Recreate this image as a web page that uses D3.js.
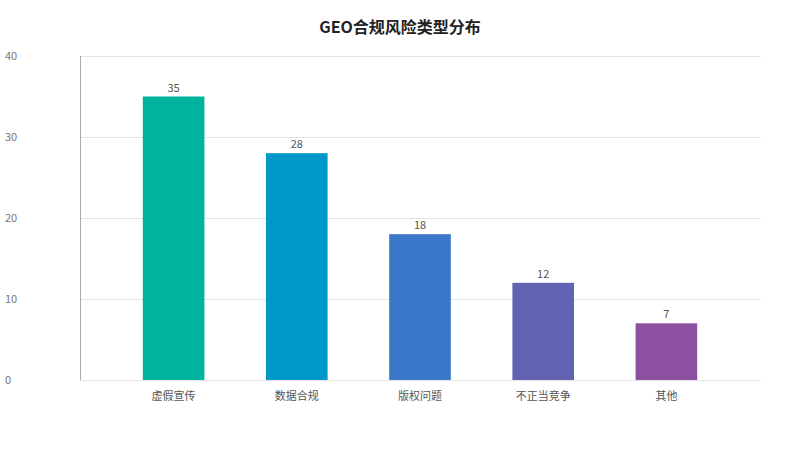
<!DOCTYPE html>
<html>
<head>
<meta charset="utf-8">
<script src="https://cdn.jsdelivr.net/npm/d3@7"></script>
<style>
  body { margin: 0; background: #fff; }
  text { font-family: "Noto Sans CJK SC", "Noto Sans", sans-serif; }
</style>
</head>
<body>
<div id="chart"></div>
<script>
// chart data
var categories = ['虚假宣传', '数据合规', '版权问题', '不正当竞争', '其他'];
var values = [35, 28, 18, 12, 7];
var colors = ['#00b39e', '#0097c9', '#3a77c9', '#6363b4', '#8b50a0'];
var yTicks = [0, 10, 20, 30, 40];

var width = 800, height = 450;
var plotLeft = 80, plotRight = 761, plotTop = 56, plotBottom = 380;

var svg = d3.select('#chart').append('svg')
  .attr('width', width)
  .attr('height', height);

var x = d3.scaleBand()
  .domain(categories)
  .range([112, 728])
  .paddingInner(0.5)
  .paddingOuter(0.25);

var y = d3.scaleLinear()
  .domain([0, 40])
  .range([plotBottom, plotTop]);

// title
svg.append('text')
  .attr('x', 400)
  .attr('y', 33)
  .attr('text-anchor', 'middle')
  .style('font-size', '16px')
  .style('font-weight', 'bold')
  .style('fill', '#222')
  .text('GEO合规风险类型分布');

// gridlines
svg.append('g')
  .selectAll('line')
  .data(yTicks)
  .enter().append('line')
  .attr('x1', plotLeft)
  .attr('x2', plotRight)
  .attr('y1', function(d) { return Math.round(y(d)) + 0.5; })
  .attr('y2', function(d) { return Math.round(y(d)) + 0.5; })
  .style('stroke', '#e3e3e3')
  .style('stroke-width', 1);

// y tick labels
svg.append('g')
  .selectAll('text')
  .data(yTicks)
  .enter().append('text')
  .attr('x', 5)
  .attr('y', function(d) { return y(d) + 4; })
  .style('font-size', '11px')
  .style('fill', '#777')
  .text(function(d) { return d; });

// y axis line
svg.append('line')
  .attr('x1', plotLeft + 0.5)
  .attr('x2', plotLeft + 0.5)
  .attr('y1', plotTop)
  .attr('y2', plotBottom)
  .style('stroke', '#aaa');

// bars
svg.append('g')
  .selectAll('rect')
  .data(values)
  .enter().append('rect')
  .attr('x', function(d, i) { return x(categories[i]); })
  .attr('y', function(d) { return y(d); })
  .attr('width', x.bandwidth())
  .attr('height', function(d) { return plotBottom - y(d); })
  .style('fill', function(d, i) { return colors[i]; });

// value labels
svg.append('g')
  .selectAll('text')
  .data(values)
  .enter().append('text')
  .attr('x', function(d, i) { return x(categories[i]) + x.bandwidth() / 2; })
  .attr('y', function(d) { return y(d) - 5; })
  .attr('text-anchor', 'middle')
  .style('font-size', '11px')
  .style('fill', '#555')
  .text(function(d) { return d; });

// category labels
svg.append('g')
  .selectAll('text')
  .data(categories)
  .enter().append('text')
  .attr('x', function(d) { return x(d) + x.bandwidth() / 2; })
  .attr('y', 400)
  .attr('text-anchor', 'middle')
  .style('font-size', '11px')
  .style('fill', '#555')
  .text(function(d) { return d; });
</script>
</body>
</html>
